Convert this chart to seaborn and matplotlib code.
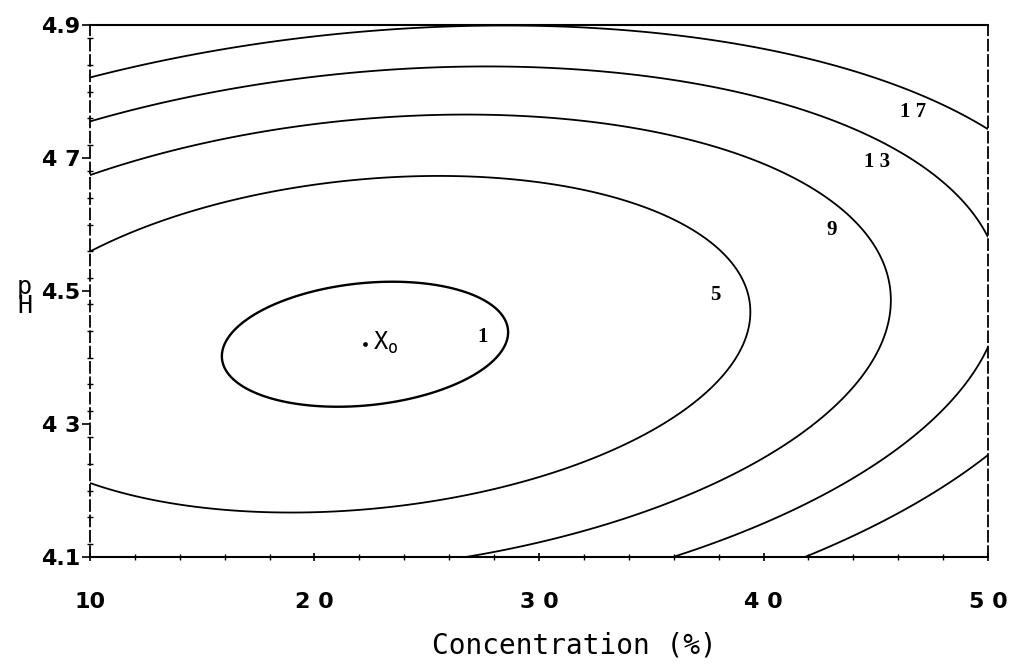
import numpy as np
import matplotlib
matplotlib.use("Agg")
import matplotlib.pyplot as plt
import seaborn as sns
from matplotlib.ticker import FixedLocator, MultipleLocator

# ---- data ----
# quadratic response surface (stationary point X0, minimum, coefficients)
stationary_point = [22.25, 4.42]          # concentration (%), pH
minimum_response = 0.36
coef_conc2 = 0.01635
coef_ph2 = 75.2
coef_cross = -0.425
contour_levels = [1, 5, 9, 13, 17]
contour_labels = ["1", "5", "9", "1 3", "1 7"]
x_ticks = [10, 20, 30, 40, 50]
x_tick_labels = ["10", "2 0", "3 0", "4 0", "5 0"]
y_ticks = [4.1, 4.3, 4.5, 4.7, 4.9]
y_tick_labels = ["4.1", "4 3", "4.5", "4 7", "4.9"]

# ---- layout (annotation positions for the contour labels) ----
label_x = [27.5, 37.85, 43.05, 45.05, 46.65]
label_y = [4.431, 4.494, 4.592, 4.694, 4.769]

sns.set_style("ticks")
plt.rcParams["font.family"] = ["DejaVu Sans"]
for k in ["text.color", "axes.labelcolor", "xtick.color", "ytick.color", "axes.edgecolor"]:
    plt.rcParams[k] = "black"

conc = np.linspace(10, 50, 401)
ph = np.linspace(4.1, 4.9, 401)
C, P = np.meshgrid(conc, ph)
dx = C - stationary_point[0]
dy = P - stationary_point[1]
Z = minimum_response + coef_conc2 * dx**2 + coef_ph2 * dy**2 + coef_cross * dx * dy

fig = plt.figure(figsize=(10.12, 6.64), dpi=100)
ax = fig.add_axes([0.0889, 0.1611, 0.8874, 0.8012])

lws = [1.7, 1.3, 1.3, 1.3, 1.3]
ax.contour(C, P, Z, levels=contour_levels, colors="black", linewidths=lws)

for t, lx, ly in zip(contour_labels, label_x, label_y):
    ax.text(lx, ly, t, ha="center", va="center", fontsize=15,
            family="Liberation Serif", fontweight="bold", color="black")

sns.scatterplot(x=[stationary_point[0]], y=[stationary_point[1]], ax=ax,
                s=10, color="black", edgecolor="black", legend=False, zorder=5)
ax.text(stationary_point[0] + 0.35, stationary_point[1] + 0.002, r"X$_{\mathregular{o}}$",
        ha="left", va="center", fontsize=17, family="DejaVu Sans Mono", color="black")

ax.set_xlim(10, 50)
ax.set_ylim(4.1, 4.9)

ax.xaxis.set_major_locator(FixedLocator(x_ticks))
ax.set_xticklabels(x_tick_labels, fontsize=16, fontweight="bold")
ax.yaxis.set_major_locator(FixedLocator(y_ticks))
ax.set_yticklabels(y_tick_labels, fontsize=16, fontweight="bold")
ax.xaxis.set_minor_locator(MultipleLocator(2))
ax.yaxis.set_minor_locator(MultipleLocator(0.04))

ax.tick_params(axis="x", which="major", direction="inout", length=6, width=1.2, pad=22)
ax.tick_params(axis="x", which="minor", direction="inout", length=5, width=1.0)
ax.tick_params(axis="y", which="major", direction="out", length=6, width=1.2, pad=1)
ax.tick_params(axis="y", which="minor", direction="inout", length=5, width=1.0)
ax.tick_params(right=False, top=False)

for side in ["top", "bottom"]:
    ax.spines[side].set_linewidth(1.5)
for side in ["left", "right"]:
    ax.spines[side].set_linewidth(1.3)
    ax.spines[side].set_linestyle((0, (6, 2.5)))

ax.set_xlabel("Concentration (%)", fontsize=20, family="DejaVu Sans Mono", va="center")
ax.xaxis.set_label_coords(0.539, -0.166)
ax.set_ylabel("p\nH", rotation=0, fontsize=18, family="DejaVu Sans Mono",
              linespacing=0.7, ha="center", va="center")
ax.yaxis.set_label_coords(-0.073, 0.49)

fig.savefig("out.png", dpi=100)
